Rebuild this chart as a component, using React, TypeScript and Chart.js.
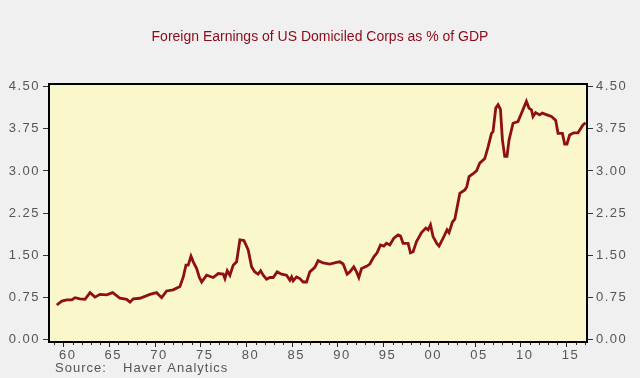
import React, { useEffect, useRef } from 'react';
import { Chart, registerables } from 'chart.js';

Chart.register(...registerables);

const titleText = 'Foreign Earnings of US Domiciled Corps as % of GDP';
const sourceLabel = 'Source:';
const sourceName = 'Haver Analytics';

const years = [
  1959.25, 1959.8, 1960.34, 1960.89, 1961.25, 1961.79, 1962.34, 1962.89, 1963.43, 1963.98,
  1964.71, 1965.37, 1966.16, 1966.9, 1967.26, 1967.62, 1968.35, 1969.44, 1970.17, 1970.72,
  1971.27, 1971.99, 1972.72, 1973.09, 1973.38, 1973.63, 1973.93, 1974.18, 1974.55, 1974.85,
  1975.1, 1975.64, 1976.36, 1976.91, 1977.46, 1977.64, 1977.9, 1978.19, 1978.55, 1978.92,
  1979.28, 1979.72, 1980.19, 1980.56, 1980.92, 1981.28, 1981.55, 1981.83, 1982.2, 1982.56,
  1982.92, 1983.36, 1983.84, 1984.39, 1984.75, 1984.94, 1985.11, 1985.48, 1985.84, 1986.2,
  1986.57, 1986.93, 1987.48, 1987.84, 1988.39, 1989.12, 1989.85, 1990.21, 1990.58, 1991.01,
  1991.31, 1991.74, 1992.04, 1992.29, 1992.59, 1993.13, 1993.49, 1993.93, 1994.29, 1994.66,
  1995.02, 1995.32, 1995.68, 1996.12, 1996.59, 1996.85, 1997.13, 1997.68, 1997.94, 1998.23,
  1998.6, 1999.15, 1999.62, 1999.87, 2000.13, 2000.41, 2000.85, 2001.07, 2001.51, 2001.94,
  2002.16, 2002.53, 2002.79, 2003.34, 2003.89, 2004.1, 2004.35, 2004.79, 2005.16, 2005.52,
  2006.07, 2006.43, 2006.8, 2006.97, 2007.27, 2007.52, 2007.78, 2008.0, 2008.25, 2008.5,
  2008.72, 2009.16, 2009.7, 2010.08, 2010.62, 2010.9, 2011.17, 2011.34, 2011.63, 2012.07,
  2012.36, 2012.87, 2013.36, 2013.83, 2014.08, 2014.56, 2014.81, 2015.06, 2015.35, 2015.79,
  2016.26, 2016.81, 2017.1,
];

const values = [
  0.61, 0.68, 0.70, 0.70, 0.74, 0.72, 0.71, 0.83, 0.75, 0.80,
  0.79, 0.83, 0.73, 0.71, 0.66, 0.72, 0.73, 0.80, 0.83, 0.74,
  0.86, 0.88, 0.94, 1.11, 1.32, 1.32, 1.48, 1.38, 1.26, 1.10,
  1.02, 1.14, 1.10, 1.17, 1.16, 1.08, 1.22, 1.14, 1.32, 1.38,
  1.77, 1.76, 1.59, 1.29, 1.20, 1.16, 1.22, 1.14, 1.07, 1.10,
  1.10, 1.20, 1.16, 1.14, 1.05, 1.11, 1.04, 1.11, 1.08, 1.02,
  1.02, 1.20, 1.28, 1.40, 1.36, 1.34, 1.37, 1.38, 1.34, 1.16,
  1.20, 1.29, 1.20, 1.10, 1.26, 1.30, 1.34, 1.47, 1.54, 1.68,
  1.66, 1.71, 1.68, 1.80, 1.86, 1.84, 1.71, 1.71, 1.54, 1.56,
  1.74, 1.90, 1.98, 1.95, 2.04, 1.83, 1.70, 1.66, 1.80, 1.95,
  1.90, 2.09, 2.14, 2.60, 2.66, 2.72, 2.90, 2.95, 3.00, 3.14,
  3.22, 3.43, 3.67, 3.70, 4.12, 4.18, 4.10, 3.55, 3.26, 3.26,
  3.55, 3.85, 3.88, 4.03, 4.24, 4.12, 4.09, 3.97, 4.04, 4.00,
  4.03, 4.00, 3.97, 3.90, 3.67, 3.67, 3.48, 3.48, 3.64, 3.68,
  3.68, 3.82, 3.86,
];

const yTickValues = [0, 0.75, 1.5, 2.25, 3, 3.75, 4.5];
const xTickYears = Array.from({ length: 59 }, (_, i) => 1959 + i);

export default function App() {
  const canvasRef = useRef<HTMLCanvasElement | null>(null);

  useEffect(() => {
    const canvas = canvasRef.current;
    if (!canvas) return;

    const tickFont = { family: '"Liberation Sans", Arial, sans-serif', size: 13 };

    const framePlugin = {
      id: 'frame',
      beforeDraw(chart: any) {
        const { ctx, chartArea } = chart;
        ctx.save();
        ctx.fillStyle = '#F0F0F0';
        ctx.fillRect(0, 0, chart.width, chart.height);
        ctx.fillStyle = '#FAF8CA';
        ctx.fillRect(chartArea.left, chartArea.top, chartArea.right - chartArea.left, chartArea.bottom - chartArea.top);
        ctx.restore();
        (ctx as any).letterSpacing = '1.5px';
      },
      afterDraw(chart: any) {
        const { ctx, chartArea } = chart;
        const xs = chart.scales.x;
        ctx.save();
        ctx.strokeStyle = '#222';
        ctx.lineWidth = 1;
        for (const yr of xTickYears) {
          if (yr % 5 === 0) continue;
          const px = Math.round(xs.getPixelForValue(yr)) + 0.5;
          ctx.beginPath();
          ctx.moveTo(px, chartArea.bottom);
          ctx.lineTo(px, chartArea.bottom + 3);
          ctx.stroke();
        }
        ctx.strokeStyle = '#000';
        ctx.lineWidth = 2;
        ctx.strokeRect(chartArea.left, chartArea.top, chartArea.right - chartArea.left, chartArea.bottom - chartArea.top);
        (ctx as any).letterSpacing = '0px';
        ctx.fillStyle = '#8B0A1A';
        ctx.font = '14px "Liberation Sans", Arial, sans-serif';
        ctx.textAlign = 'center';
        ctx.textBaseline = 'middle';
        ctx.fillText(titleText, chart.width / 2, 37);
        (ctx as any).letterSpacing = '1px';
        ctx.fillStyle = '#555';
        ctx.font = '13px "Liberation Sans", Arial, sans-serif';
        ctx.textAlign = 'left';
        ctx.fillText(sourceLabel, 55, 368);
        ctx.fillText(sourceName, 123, 368);
        ctx.restore();
      },
    };

    const yScale = (position: 'left' | 'right', width: number) => ({
      type: 'linear' as const,
      position,
      min: -0.05,
      max: 4.55,
      afterBuildTicks: (s: any) => {
        s.ticks = yTickValues.map((v) => ({ value: v }));
      },
      afterFit: (s: any) => {
        s.width = width;
      },
      border: { display: false },
      grid: { drawOnChartArea: false, drawTicks: true, tickLength: 6, color: '#333', lineWidth: 1 },
      ticks: {
        color: '#555',
        font: tickFont,
        padding: 3,
        callback: (v: any) => Number(v).toFixed(2),
      },
    });

    const chart = new Chart(canvas, {
      type: 'line',
      data: {
        datasets: [
          {
            data: years.map((x, i) => ({ x, y: values[i] })),
            borderColor: '#8E1014',
            borderWidth: 2.8,
            pointRadius: 0,
            tension: 0,
            fill: false,
          },
        ],
      },
      options: {
        responsive: false,
        devicePixelRatio: 1,
        animation: false,
        layout: { padding: { top: 84, left: 0, right: 0, bottom: 0 } },
        plugins: { legend: { display: false }, tooltip: { enabled: false }, title: { display: false } },
        scales: {
          x: {
            type: 'linear',
            min: 1958.4,
            max: 2017.25,
            afterBuildTicks: (s: any) => {
              s.ticks = xTickYears.map((v) => ({ value: v }));
            },
            afterFit: (s: any) => {
              s.height = 36;
            },
            border: { display: false },
            grid: {
              drawOnChartArea: false,
              drawTicks: true,
              tickLength: 5,
              color: (c: any) => (c.tick && c.tick.value % 5 === 0 ? '#222' : 'rgba(0,0,0,0)'),
            },
            ticks: {
              autoSkip: false,
              maxRotation: 0,
              minRotation: 0,
              labelOffset: 4,
              padding: 1,
              color: '#555',
              font: tickFont,
              callback: (v: any) => (Number(v) % 5 === 0 ? String(Number(v) % 100).padStart(2, '0') : ''),
            },
          },
          y: yScale('left', 49),
          y2: yScale('right', 53),
        },
      },
      plugins: [framePlugin],
    });

    return () => chart.destroy();
  }, []);

  return (
    <div style={{ position: 'absolute', left: 0, top: 0, width: 640, height: 378, background: '#F0F0F0' }}>
      <canvas ref={canvasRef} width={640} height={378} style={{ display: 'block' }} />
    </div>
  );
}
